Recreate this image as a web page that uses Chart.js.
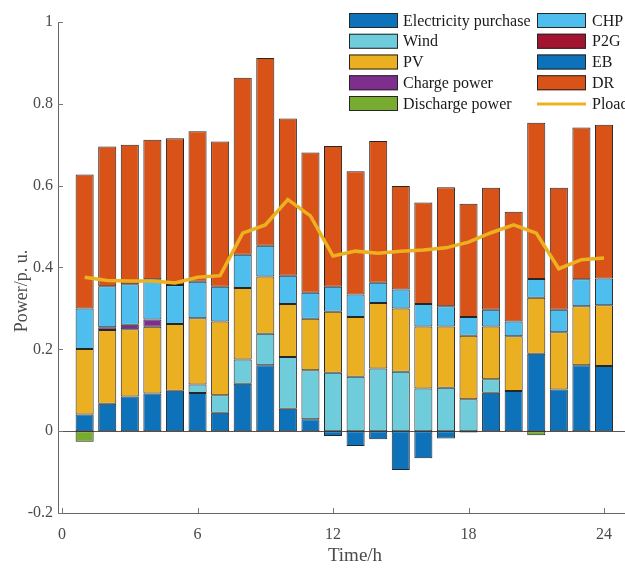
<!DOCTYPE html>
<html>
<head>
<meta charset="utf-8">
<title>Power balance</title>
<script src="https://cdn.jsdelivr.net/npm/chart.js@4.4.1/dist/chart.umd.min.js"></script>
<style>
  html, body { margin: 0; padding: 0; background: #fff; }
  #wrap { width: 625px; height: 569px; }
</style>
</head>
<body>
<div id="wrap"><canvas id="power" width="625" height="569"></canvas></div>
<script>
// hourly data, p.u.
const hours = [1, 2, 3, 4, 5, 6, 7, 8, 9, 10, 11, 12, 13, 14, 15, 16, 17, 18, 19, 20, 21, 22, 23, 24];
const purchase = [0.041, 0.067, 0.085, 0.092, 0.099, 0.093, 0.045, 0.116, 0.161, 0.055, 0.029, -0.012, -0.036, -0.020, -0.095, -0.066, -0.018, -0.003, 0.094, 0.098, 0.189, 0.102, 0.161, 0.159];
const wind = [0, 0, 0, 0, 0, 0.021, 0.043, 0.059, 0.077, 0.126, 0.120, 0.143, 0.133, 0.153, 0.145, 0.104, 0.106, 0.078, 0.033, 0, 0, 0, 0, 0];
const pv = [0.160, 0.180, 0.164, 0.163, 0.163, 0.162, 0.180, 0.175, 0.140, 0.130, 0.126, 0.149, 0.146, 0.160, 0.155, 0.152, 0.150, 0.155, 0.129, 0.134, 0.137, 0.140, 0.144, 0.149];
const charge = [0, 0.007, 0.011, 0.018, 0, 0, 0, 0, 0, 0, 0, 0, 0, 0, 0, 0, 0, 0, 0, 0, 0, 0, 0, 0];
const discharge = [-0.026, 0, 0, 0, 0, 0, 0, 0, 0, 0, 0, 0, 0, 0, 0, 0, 0, 0, 0, 0, -0.010, 0, 0, 0];
const chp = [0.099, 0.100, 0.099, 0.098, 0.095, 0.089, 0.085, 0.081, 0.075, 0.069, 0.063, 0.061, 0.055, 0.050, 0.046, 0.055, 0.049, 0.046, 0.041, 0.036, 0.046, 0.055, 0.066, 0.065];
const p2g = [0, 0, 0, 0, 0, 0, 0, 0, 0, 0, 0, 0, 0, 0, 0, 0, 0, 0, 0, 0, 0, 0, 0, 0];
const eb = [0, 0, 0, 0, 0, 0, 0, 0, 0, 0, 0, 0, 0, 0, 0, 0, 0, 0, 0, 0, 0, 0, 0, 0];
const dr = [0.327, 0.342, 0.341, 0.341, 0.359, 0.368, 0.355, 0.433, 0.459, 0.384, 0.343, 0.344, 0.301, 0.346, 0.253, 0.248, 0.291, 0.277, 0.298, 0.268, 0.382, 0.298, 0.371, 0.376];
const pload = [0.376, 0.368, 0.367, 0.367, 0.362, 0.376, 0.380, 0.484, 0.504, 0.566, 0.526, 0.428, 0.440, 0.435, 0.440, 0.443, 0.448, 0.462, 0.485, 0.504, 0.484, 0.397, 0.419, 0.423];

const xTicks = [0, 6, 12, 18, 24];
const yTicks = [-0.2, 0, 0.2, 0.4, 0.6, 0.8, 1];

// legend columns (dataset labels)
const legendLeft = ['Electricity purchase', 'Wind', 'PV', 'Charge power', 'Discharge power'];
const legendRight = ['CHP', 'P2G', 'EB', 'DR', 'Pload'];

const SERIF = '"Liberation Serif", "Times New Roman", serif';
Chart.defaults.font.family = SERIF;
Chart.defaults.font.size = 16;
Chart.defaults.color = '#4a4a4a';

function toPoints(values) {
    return values.map((v, i) => ({ x: hours[i], y: v }));
}

function barSet(label, values, color) {
    return {
        type: 'bar',
        label: label,
        data: toPoints(values),
        backgroundColor: color,
        borderColor: '#262626',
        borderWidth: c => (c.raw && c.raw.y !== 0 ? 1 : 0),
        borderSkipped: false,
        stack: 'power',
        order: 1,
        categoryPercentage: 1,
        barPercentage: 0.8,
    };
}

// zero line, inward ticks, axis titles and the two-column legend
const decor = {
    id: 'decor',
    beforeDatasetsDraw(chart) {
        const { ctx, chartArea, scales } = chart;
        const y0 = Math.round(scales.y.getPixelForValue(0)) + 0.5;
        ctx.save();
        ctx.strokeStyle = '#555';
        ctx.lineWidth = 1;
        ctx.beginPath();
        ctx.moveTo(chartArea.left, y0);
        ctx.lineTo(chartArea.right, y0);
        ctx.stroke();
        ctx.restore();
    },
    afterDraw(chart) {
        const { ctx, chartArea, scales } = chart;
        ctx.save();
        ctx.strokeStyle = '#777';
        ctx.lineWidth = 1;
        ctx.beginPath();
        yTicks.forEach(v => {
            const py = Math.round(scales.y.getPixelForValue(v)) + 0.5;
            ctx.moveTo(chartArea.left, py);
            ctx.lineTo(chartArea.left + 5, py);
        });
        xTicks.forEach(v => {
            const px = Math.round(scales.x.getPixelForValue(v)) + 0.5;
            ctx.moveTo(px, chartArea.bottom);
            ctx.lineTo(px, chartArea.bottom - 5);
        });
        ctx.stroke();

        // axis titles
        ctx.fillStyle = '#4a4a4a';
        ctx.textAlign = 'center';
        ctx.textBaseline = 'middle';
        ctx.font = '19px ' + SERIF;
        ctx.fillText('Time/h', 355, 556);
        ctx.font = '18px ' + SERIF;
        ctx.translate(22, 291);
        ctx.rotate(-Math.PI / 2);
        ctx.fillText('Power/p. u.', 0, 0);
        ctx.restore();

        // legend
        ctx.save();
        ctx.font = '16px ' + SERIF;
        ctx.textAlign = 'left';
        ctx.textBaseline = 'middle';
        const drawColumn = (labels, boxX, textX) => {
            labels.forEach((label, i) => {
                const ds = chart.data.datasets.find(d => d.label === label);
                const top = 13 + i * 20.75;
                if (ds.type === 'line') {
                    ctx.strokeStyle = ds.borderColor;
                    ctx.lineWidth = 3;
                    ctx.beginPath();
                    ctx.moveTo(boxX, top + 8);
                    ctx.lineTo(boxX + 49, top + 8);
                    ctx.stroke();
                } else {
                    ctx.fillStyle = ds.backgroundColor;
                    ctx.fillRect(boxX, top, 49, 15);
                    ctx.strokeStyle = '#262626';
                    ctx.lineWidth = 1;
                    ctx.strokeRect(boxX + 0.5, top + 0.5, 48, 14);
                }
                ctx.fillStyle = '#1a1a1a';
                ctx.fillText(label, textX, top + 8.5);
            });
        };
        drawColumn(legendLeft, 349, 403);
        drawColumn(legendRight, 537, 592);
        ctx.restore();
    },
};

new Chart(document.getElementById('power').getContext('2d'), {
    type: 'bar',
    data: {
        datasets: [
            {
                type: 'line',
                label: 'Pload',
                data: toPoints(pload),
                borderColor: '#EDB120',
                backgroundColor: '#EDB120',
                borderWidth: 3.5,
                pointRadius: 0,
                tension: 0,
                stack: 'load',
                order: 0,
            },
            barSet('Electricity purchase', purchase, '#0E72BA'),
            barSet('Wind', wind, '#6FCCDA'),
            barSet('PV', pv, '#EBB022'),
            barSet('Charge power', charge, '#7E2F8E'),
            barSet('Discharge power', discharge, '#77AC30'),
            barSet('CHP', chp, '#4DBEEE'),
            barSet('P2G', p2g, '#A2142F'),
            barSet('EB', eb, '#0E72BA'),
            barSet('DR', dr, '#D95319'),
        ],
    },
    options: {
        responsive: false,
        animation: false,
        devicePixelRatio: 1,
        layout: { padding: { top: 22, right: 0, left: 0, bottom: 0 } },
        plugins: {
            legend: { display: false },
            tooltip: { enabled: false },
        },
        scales: {
            x: {
                type: 'linear',
                stacked: true,
                offset: false,
                min: -0.18,
                max: 24.93,
                afterBuildTicks: s => { s.ticks = xTicks.map(v => ({ value: v })); },
                afterFit: s => { s.height = 56; },
                ticks: { padding: 12, color: '#4a4a4a', callback: v => String(v) },
                grid: { display: false, drawTicks: false },
                border: { display: true, color: '#666', width: 1 },
            },
            y: {
                stacked: true,
                min: -0.2,
                max: 1,
                afterBuildTicks: s => { s.ticks = yTicks.map(v => ({ value: v })); },
                afterFit: s => { s.width = 58; },
                ticks: { padding: 5, color: '#4a4a4a', callback: v => String(v) },
                grid: { display: false, drawTicks: false },
                border: { display: true, color: '#666', width: 1 },
            },
        },
    },
    plugins: [decor],
});
</script>
</body>
</html>
